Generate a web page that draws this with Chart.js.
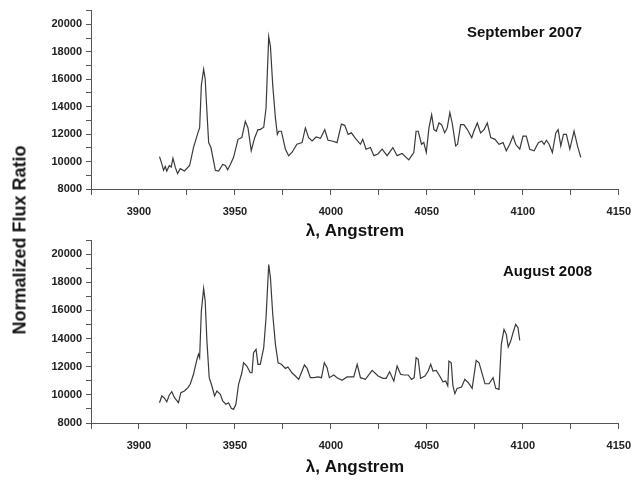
<!DOCTYPE html>
<html>
<head>
<meta charset="utf-8">
<script src="https://cdn.jsdelivr.net/npm/chart.js@4/dist/chart.umd.min.js"></script>
<style>
  body { margin: 0; background: #fff; }
  #wrap { position: relative; width: 641px; height: 481px; overflow: hidden; font-family: "Liberation Sans", Arial, sans-serif; }
  canvas { position: absolute; left: 0; }
  #c1 { top: 0; }
  #c2 { top: 228px; }
  .note { position: absolute; font-weight: bold; font-size: 15px; color: #111; white-space: nowrap; }
  #ytitle { position: absolute; left: 20px; top: 240px; transform: translate(-50%, -50%) rotate(-90deg);
            font-weight: bold; font-size: 18px; color: #111; white-space: nowrap; }
</style>
</head>
<body>
<div id="wrap">
  <canvas id="c1" width="641" height="240"></canvas>
  <canvas id="c2" width="641" height="253"></canvas>
  <div class="note" style="left:467px; top:23px;">September 2007</div>
  <div class="note" style="left:503px; top:262px;">August 2008</div>
  <div id="ytitle">Normalized Flux Ratio</div>
</div>
<script>
// September 2007 spectrum
const sep2007Wave = [3910.7, 3911.9, 3912.8, 3913.7, 3914.5, 3915.8, 3916.8, 3917.7, 3918.9, 3920.1,
  3921.5, 3923.7, 3926.4, 3928.4, 3930.7, 3931.6, 3932.5, 3933.7, 3934.5, 3935.4,
  3936.3, 3937.5, 3939.8, 3941.5, 3943.6, 3945.0, 3946.2, 3947.6, 3949.3, 3951.6,
  3953.6, 3955.4, 3956.8, 3958.5, 3960.3, 3962.0, 3963.2, 3965.0, 3966.2, 3967.6,
  3968.5, 3969.7, 3971.1, 3972.1, 3972.8, 3974.2, 3976.3, 3978.0, 3979.7, 3982.3,
  3985.0, 3986.7, 3988.4, 3990.2, 3992.3, 3994.6, 3996.8, 3998.5, 4000.6, 4003.2,
  4005.5, 4007.2, 4009.0, 4010.7, 4012.8, 4015.4, 4016.6, 4018.3, 4020.6, 4022.4,
  4024.5, 4026.7, 4029.3, 4032.3, 4034.5, 4037.1, 4040.6, 4043.2, 4044.4, 4045.5,
  4047.2, 4048.4, 4049.7, 4051.1, 4052.5, 4053.7, 4054.9, 4056.3, 4057.7, 4059.3,
  4060.6, 4062.0, 4063.2, 4065.0, 4066.0, 4067.6, 4069.3, 4071.1, 4073.4, 4074.5,
  4076.3, 4078.0, 4079.8, 4081.5, 4083.3, 4085.5, 4087.6, 4089.7, 4091.4, 4093.2,
  4094.9, 4096.3, 4098.4, 4100.1, 4101.8, 4103.6, 4105.9, 4108.1, 4109.9, 4111.1,
  4112.3, 4113.7, 4115.4, 4117.2, 4118.4, 4119.8, 4121.2, 4122.7, 4124.5, 4126.7,
  4128.5, 4130.2];
const sep2007Flux = [10360, 9830, 9360, 9640, 9310, 9710, 9590, 10240, 9590, 9120,
  9480, 9310, 9710, 11020, 12090, 12450, 15550, 16730, 16020, 13640,
  11380, 11020, 9360, 9310, 9790, 9710, 9410, 9790, 10310, 11620,
  11740, 12930, 12450, 10790, 11740, 12330, 12330, 12500, 13880, 19100,
  18400, 15550, 13160, 11980, 12210, 12210, 10900, 10430, 10660, 11260,
  11380, 12450, 11740, 11500, 11790, 11690, 12330, 11550, 11500, 11380,
  12730, 12640, 11980, 12090, 11690, 11260, 11620, 10900, 11020, 10430,
  10550, 10900, 10430, 11020, 10430, 10590, 10120, 10660, 12210, 12210,
  11260, 11380, 10660, 12450, 13410, 12330, 12210, 12810, 12690, 12090,
  12450, 13570, 12810, 11140, 11260, 12690, 12690, 12330, 11740, 12210,
  12810, 12090, 12330, 12810, 11740, 11620, 11260, 11380, 10790, 11260,
  11860, 11260, 10900, 11860, 11860, 10900, 10790, 11380, 11500, 11260,
  11550, 11260, 10660, 12090, 12330, 11140, 11980, 11980, 10900, 12210,
  11140, 10310];

// August 2008 spectrum
const aug2008Wave = [3910.7, 3911.9, 3913.1, 3914.5, 3915.8, 3917.1, 3918.5, 3920.6, 3921.8, 3923.7,
  3925.5, 3926.7, 3928.4, 3930.2, 3931.0, 3931.6, 3932.5, 3933.7, 3934.5, 3935.4,
  3936.6, 3938.0, 3939.4, 3940.6, 3942.4, 3943.6, 3945.3, 3946.7, 3948.1, 3949.3,
  3950.5, 3951.9, 3953.6, 3954.5, 3956.2, 3958.0, 3958.9, 3959.7, 3961.0, 3962.0,
  3963.2, 3965.0, 3966.2, 3967.6, 3968.5, 3969.7, 3971.1, 3972.5, 3974.2, 3976.3,
  3977.6, 3979.7, 3981.5, 3983.2, 3984.6, 3986.2, 3987.6, 3989.3, 3991.1, 3993.3,
  3995.1, 3996.6, 3998.0, 3999.2, 4001.5, 4003.2, 4005.8, 4008.4, 4011.9, 4013.7,
  4015.4, 4018.0, 4021.5, 4024.6, 4027.1, 4028.8, 4030.6, 4032.8, 4034.5, 4036.3,
  4038.0, 4040.3, 4042.0, 4043.4, 4044.4, 4045.5, 4046.7, 4049.0, 4050.7, 4052.0,
  4053.2, 4054.9, 4056.7, 4058.4, 4059.8, 4060.9, 4061.5, 4062.7, 4063.6, 4064.6,
  4065.8, 4068.1, 4069.8, 4071.6, 4073.6, 4075.7, 4077.2, 4078.9, 4080.3, 4082.4,
  4084.5, 4085.9, 4087.6, 4088.8, 4090.2, 4091.4, 4092.4, 4093.7, 4094.9, 4096.3,
  4097.5, 4098.4];
const aug2008Flux = [9440, 9920, 9800, 9510, 9990, 10220, 9800, 9440, 10150, 10270,
  10510, 10750, 11460, 12520, 12880, 12640, 15950, 17560, 16660, 13820,
  11220, 10630, 9920, 10270, 10040, 9560, 9330, 9440, 9040, 8970,
  9330, 10750, 11570, 12280, 12050, 11570, 11570, 12990, 13230, 12170,
  12170, 13350, 15480, 19250, 18320, 15720, 13590, 12280, 12170, 11880,
  11980, 11570, 11340, 11100, 11570, 12120, 11880, 11220, 11220, 11270,
  11220, 12280, 11930, 11220, 11410, 11220, 11030, 11270, 11270, 12170,
  11220, 11100, 11740, 11340, 11170, 11170, 11640, 10980, 12050, 11460,
  11410, 11410, 11100, 11220, 12640, 12520, 11170, 11340, 11690, 12170,
  11690, 11740, 11340, 10930, 10980, 10630, 12400, 12280, 10630, 10080,
  10460, 10560, 11100, 10860, 10460, 12450, 12280, 11460, 10790, 10790,
  11220, 10460, 10390, 13590, 14650, 14300, 13400, 13820, 14410, 15010,
  14770, 13870];

const xMin = 3875, xMax = 4150, xStep = 25;
const yMin = 8000, yMax = 21000, yStep = 1000;

function toPoints(wave, flux) {
  return wave.map((w, i) => ({ x: w, y: flux[i] }));
}

const tickFont = { family: 'Liberation Sans', size: 11, weight: 'bold' };

function makeChart(id, wave, flux, pad, xBoxHeight) {
  return new Chart(document.getElementById(id), {
    type: 'line',
    data: {
      datasets: [{
        data: toPoints(wave, flux),
        borderColor: '#3a3a3a',
        borderWidth: 1.2,
        pointRadius: 0,
        tension: 0,
        fill: false
      }]
    },
    options: {
      responsive: false,
      animation: false,
      layout: { padding: pad },
      plugins: { legend: { display: false }, tooltip: { enabled: false } },
      scales: {
        x: {
          type: 'linear',
          min: xMin,
          max: xMax,
          border: { color: '#555', width: 1 },
          grid: { drawOnChartArea: false, drawTicks: true, tickLength: 6, color: '#555' },
          ticks: {
            stepSize: xStep,
            padding: 10,
            color: '#222',
            font: tickFont,
            maxRotation: 0,
            autoSkip: false,
            callback: v => (v % 50 === 0 ? String(v) : '')
          },
          title: {
            display: true,
            text: 'λ, Angstrem',
            color: '#111',
            font: { family: 'Liberation Sans', size: 17, weight: 'bold', lineHeight: 1 },
            padding: 0
          },
          afterFit: s => { s.height = xBoxHeight; }
        },
        y: {
          min: yMin,
          max: yMax,
          border: { color: '#555', width: 1 },
          grid: { drawOnChartArea: false, drawTicks: true, tickLength: 5, color: '#555' },
          ticks: {
            stepSize: yStep,
            padding: 4,
            color: '#222',
            font: tickFont,
            autoSkip: false,
            callback: v => (v % 2000 === 0 ? String(v) : '')
          },
          afterFit: s => { s.width = 91; }
        }
      }
    }
  });
}

makeChart('c1', sep2007Wave, sep2007Flux, { left: 0, right: 21, top: 7, bottom: 0 }, 51);
makeChart('c2', aug2008Wave, aug2008Flux, { left: 0, right: 21, top: 12, bottom: 5 }, 53);
</script>
</body>
</html>
